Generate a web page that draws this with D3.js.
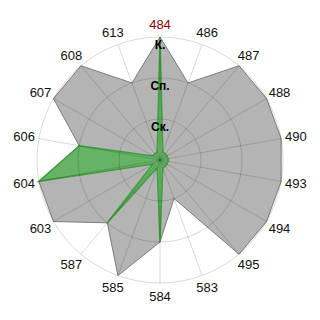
<!DOCTYPE html>
<html>
<head>
<meta charset="utf-8">
<script src="https://d3js.org/d3.v7.min.js"></script>
<style>
    body { margin: 0; background: #fff; }
    .axis-label { font-family: 'Liberation Sans', Arial, sans-serif; font-size: 13px; fill: #111; }
    .level-label { font-family: 'Liberation Sans', Arial, sans-serif; font-size: 12px; font-weight: bold; fill: #000; }
</style>
</head>
<body>
<script>
    // categories clockwise from the top
    var categories = ["484", "486", "487", "488", "490", "493", "494", "495", "583",
                      "584", "585", "587", "603", "604", "606", "607", "608", "613"];
    // ring labels (level 1..3)
    var levels = ["Ск.", "Сп.", "К."];
    var greySeries  = [3, 2, 3, 3, 3, 3, 3, 3, 1, 2, 3, 2, 3, 3, 2, 3, 3, 2];
    var greenSeries = [3, 0.2, 0.2, 0.2, 0.2, 0.2, 0.2, 0.2, 0.2,
                       2, 0.2, 2, 0.2, 3, 2, 0.2, 0.2, 0.2];
    var highlighted = "484";

    var width = 320, height = 320;
    var cx = 160, cy = 160, R = 123;

    var svg = d3.select("body").append("svg")
        .attr("width", width)
        .attr("height", height);

    var g = svg.append("g").attr("transform", "translate(" + cx + "," + cy + ")");

    var angle = d3.scalePoint()
        .domain(categories.concat(["_end"]))
        .range([0, 2 * Math.PI]);

    var r = d3.scaleLinear().domain([0, levels.length]).range([0, R]);

    var radial = d3.lineRadial()
        .angle(function(d, i) { return angle(categories[i]); })
        .radius(function(d) { return r(d); })
        .curve(d3.curveLinearClosed);

    // series polygons
    g.append("path")
        .datum(greySeries)
        .attr("d", radial)
        .attr("fill", "#b4b4b4")
        .attr("stroke", "#7c7c7c")
        .attr("stroke-width", 1);

    g.append("path")
        .datum(greenSeries)
        .attr("d", radial)
        .attr("fill", "#66b266")
        .attr("stroke", "#3f9f3f")
        .attr("stroke-width", 1.5)
        .attr("stroke-linejoin", "miter");

    // grid on top, semi transparent
    var grid = g.append("g");
    grid.selectAll(".ring")
        .data(d3.range(1, levels.length + 1))
        .enter().append("circle")
        .attr("r", function(d) { return r(d); })
        .attr("fill", "none")
        .attr("stroke", "rgba(0,0,0,0.15)")
        .attr("stroke-width", 1);

    grid.selectAll(".spoke")
        .data(categories)
        .enter().append("line")
        .attr("x1", 0).attr("y1", 0)
        .attr("x2", function(d) { return R * Math.sin(angle(d)); })
        .attr("y2", function(d) { return -R * Math.cos(angle(d)); })
        .attr("stroke", "rgba(0,0,0,0.15)")
        .attr("stroke-width", 1);

    // category labels
    g.selectAll(".axis-label")
        .data(categories)
        .enter().append("text")
        .attr("class", "axis-label")
        .attr("x", function(d) { return 138 * Math.sin(angle(d)); })
        .attr("y", function(d) { return -136 * Math.cos(angle(d)); })
        .attr("text-anchor", "middle")
        .attr("dy", "0.35em")
        .style("fill", function(d) { return d === highlighted ? "#8b0000" : null; })
        .text(function(d) { return d; });

    // level labels
    g.selectAll(".level-label")
        .data(levels)
        .enter().append("text")
        .attr("class", "level-label")
        .attr("x", 0)
        .attr("y", function(d, i) { return -r(i + 1) + 8; })
        .attr("dy", "0.35em")
        .attr("text-anchor", "middle")
        .text(function(d) { return d; });
</script>
</body>
</html>
